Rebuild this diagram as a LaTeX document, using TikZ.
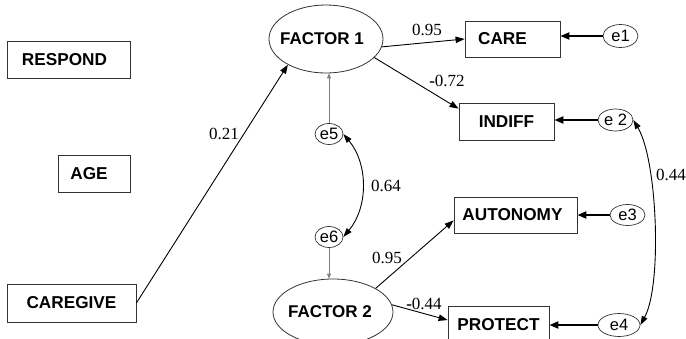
\documentclass[tikz,border=0pt]{standalone}
\usepackage{fontspec}
\setmainfont{Liberation Serif}
\setsansfont{Liberation Sans}
\usetikzlibrary{arrows.meta,shapes.geometric}
\begin{document}
\begin{tikzpicture}[x=1pt,y=-1pt,
  box/.style={draw=black!80,line width=0.8pt,rectangle,inner sep=0pt,font=\sffamily\bfseries\fontsize{17.2}{19}\selectfont},
  latent/.style={draw=black!80,line width=0.8pt,ellipse,inner sep=0pt,font=\sffamily\bfseries\fontsize{17}{19}\selectfont},
  err/.style={draw=black!80,line width=0.7pt,ellipse,inner sep=0pt,font=\sffamily\fontsize{16.5}{18}\selectfont},
  coef/.style={font=\fontsize{17}{19}\selectfont,inner sep=0pt},
  pathar/.style={line width=0.9pt,-{Triangle[length=9pt,width=6.5pt]}},
  resid/.style={line width=2pt,-{Triangle[length=9pt,width=7pt]}},
  disturb/.style={draw=gray,line width=0.8pt,-{Triangle[length=5pt,width=4pt]}},
  cov/.style={line width=0.9pt,{Triangle[length=9pt,width=6pt]}-{Triangle[length=9pt,width=6pt]}}
]
\useasboundingbox (0,0) rectangle (686,338);

% observed variables
\node[box,minimum width=123pt,minimum height=37pt] (respond) at (68.5,59.5) {\hspace*{-8pt}RESPOND};
\node[box,minimum width=72pt,minimum height=37pt] (age) at (94,173.5) {\hspace*{-10pt}AGE};
\node[box,minimum width=129pt,minimum height=38pt] (caregive) at (71.5,303) {CAREGIVE};
\node[box,minimum width=95pt,minimum height=36pt] (care) at (512.5,39) {\hspace*{-20pt}CARE};
\node[box,minimum width=95pt,minimum height=37pt] (indiff) at (506.5,121.5) {INDIFF};
\node[box,minimum width=123pt,minimum height=36pt] (autonomy) at (515.5,215) {\hspace*{-6pt}AUTONOMY};
\node[box,minimum width=101pt,minimum height=37pt] (protect) at (498.5,324.5) {PROTECT};

% latent variables
\node[latent,minimum width=114pt,minimum height=68pt] (f1) at (326,39) {\hspace*{-8pt}FACTOR 1};
\node[latent,minimum width=120pt,minimum height=66pt] (f2) at (333,312) {\hspace*{-6pt}FACTOR 2};

% error terms
\node[err,minimum width=35pt,minimum height=23pt] (e1) at (620.5,36) {e1};
\node[err,minimum width=35pt,minimum height=22pt] (e2) at (615.5,120) {e 2};
\node[err,minimum width=35pt,minimum height=21pt] (e3) at (627.5,215) {e3};
\node[err,minimum width=42pt,minimum height=23pt] (e4) at (619,325) {e4};
\node[err,minimum width=28pt,minimum height=21pt] (e5) at (329,134) {e5};
\node[err,minimum width=28pt,minimum height=21pt] (e6) at (329,237) {e6};

% structural paths
\draw[pathar] (caregive.east) -- (f1.214);
\draw[pathar] (f1.-8) -- (care.west);
\draw[pathar] (f1.-21) -- (indiff.165);
\draw[pathar] (f2.29) -- (autonomy.185);
\draw[pathar] (f2.7) -- (protect.175);

% residual arrows
\draw[resid] (e1.west) -- (e1.west -| care.east);
\draw[resid] (e2.west) -- (e2.west -| indiff.east);
\draw[resid] (e3.west) -- (e3.west -| autonomy.east);
\draw[resid] (e4.west) -- (e4.west -| protect.east);

% disturbances
\draw[disturb] (e5.north) -- (e5.north |- f1.south);
\draw[disturb] (e6.south) -- (e6.south |- f2.north);

% covariances
\draw[cov] (e5.east) .. controls +(25,30) and +(25,-30) .. (e6.east);
\draw[cov] (e2.east) .. controls +(24,40) and +(22,-40) .. (e4.east);

% coefficients
\node[coef] (c021) at (224,134) {0.21};
\node[coef] (c095a) at (427,30) {0.95};
\node[coef] (c072) at (447,81) {\textbf{-}0.72};
\node[coef] (c064) at (386,186) {0.64};
\node[coef] (c095b) at (387,258) {0.95};
\node[coef] (c044a) at (424,304) {\textbf{-}0.44};
\node[coef] (c044b) at (671,175) {0.44};
\end{tikzpicture}
\end{document}
